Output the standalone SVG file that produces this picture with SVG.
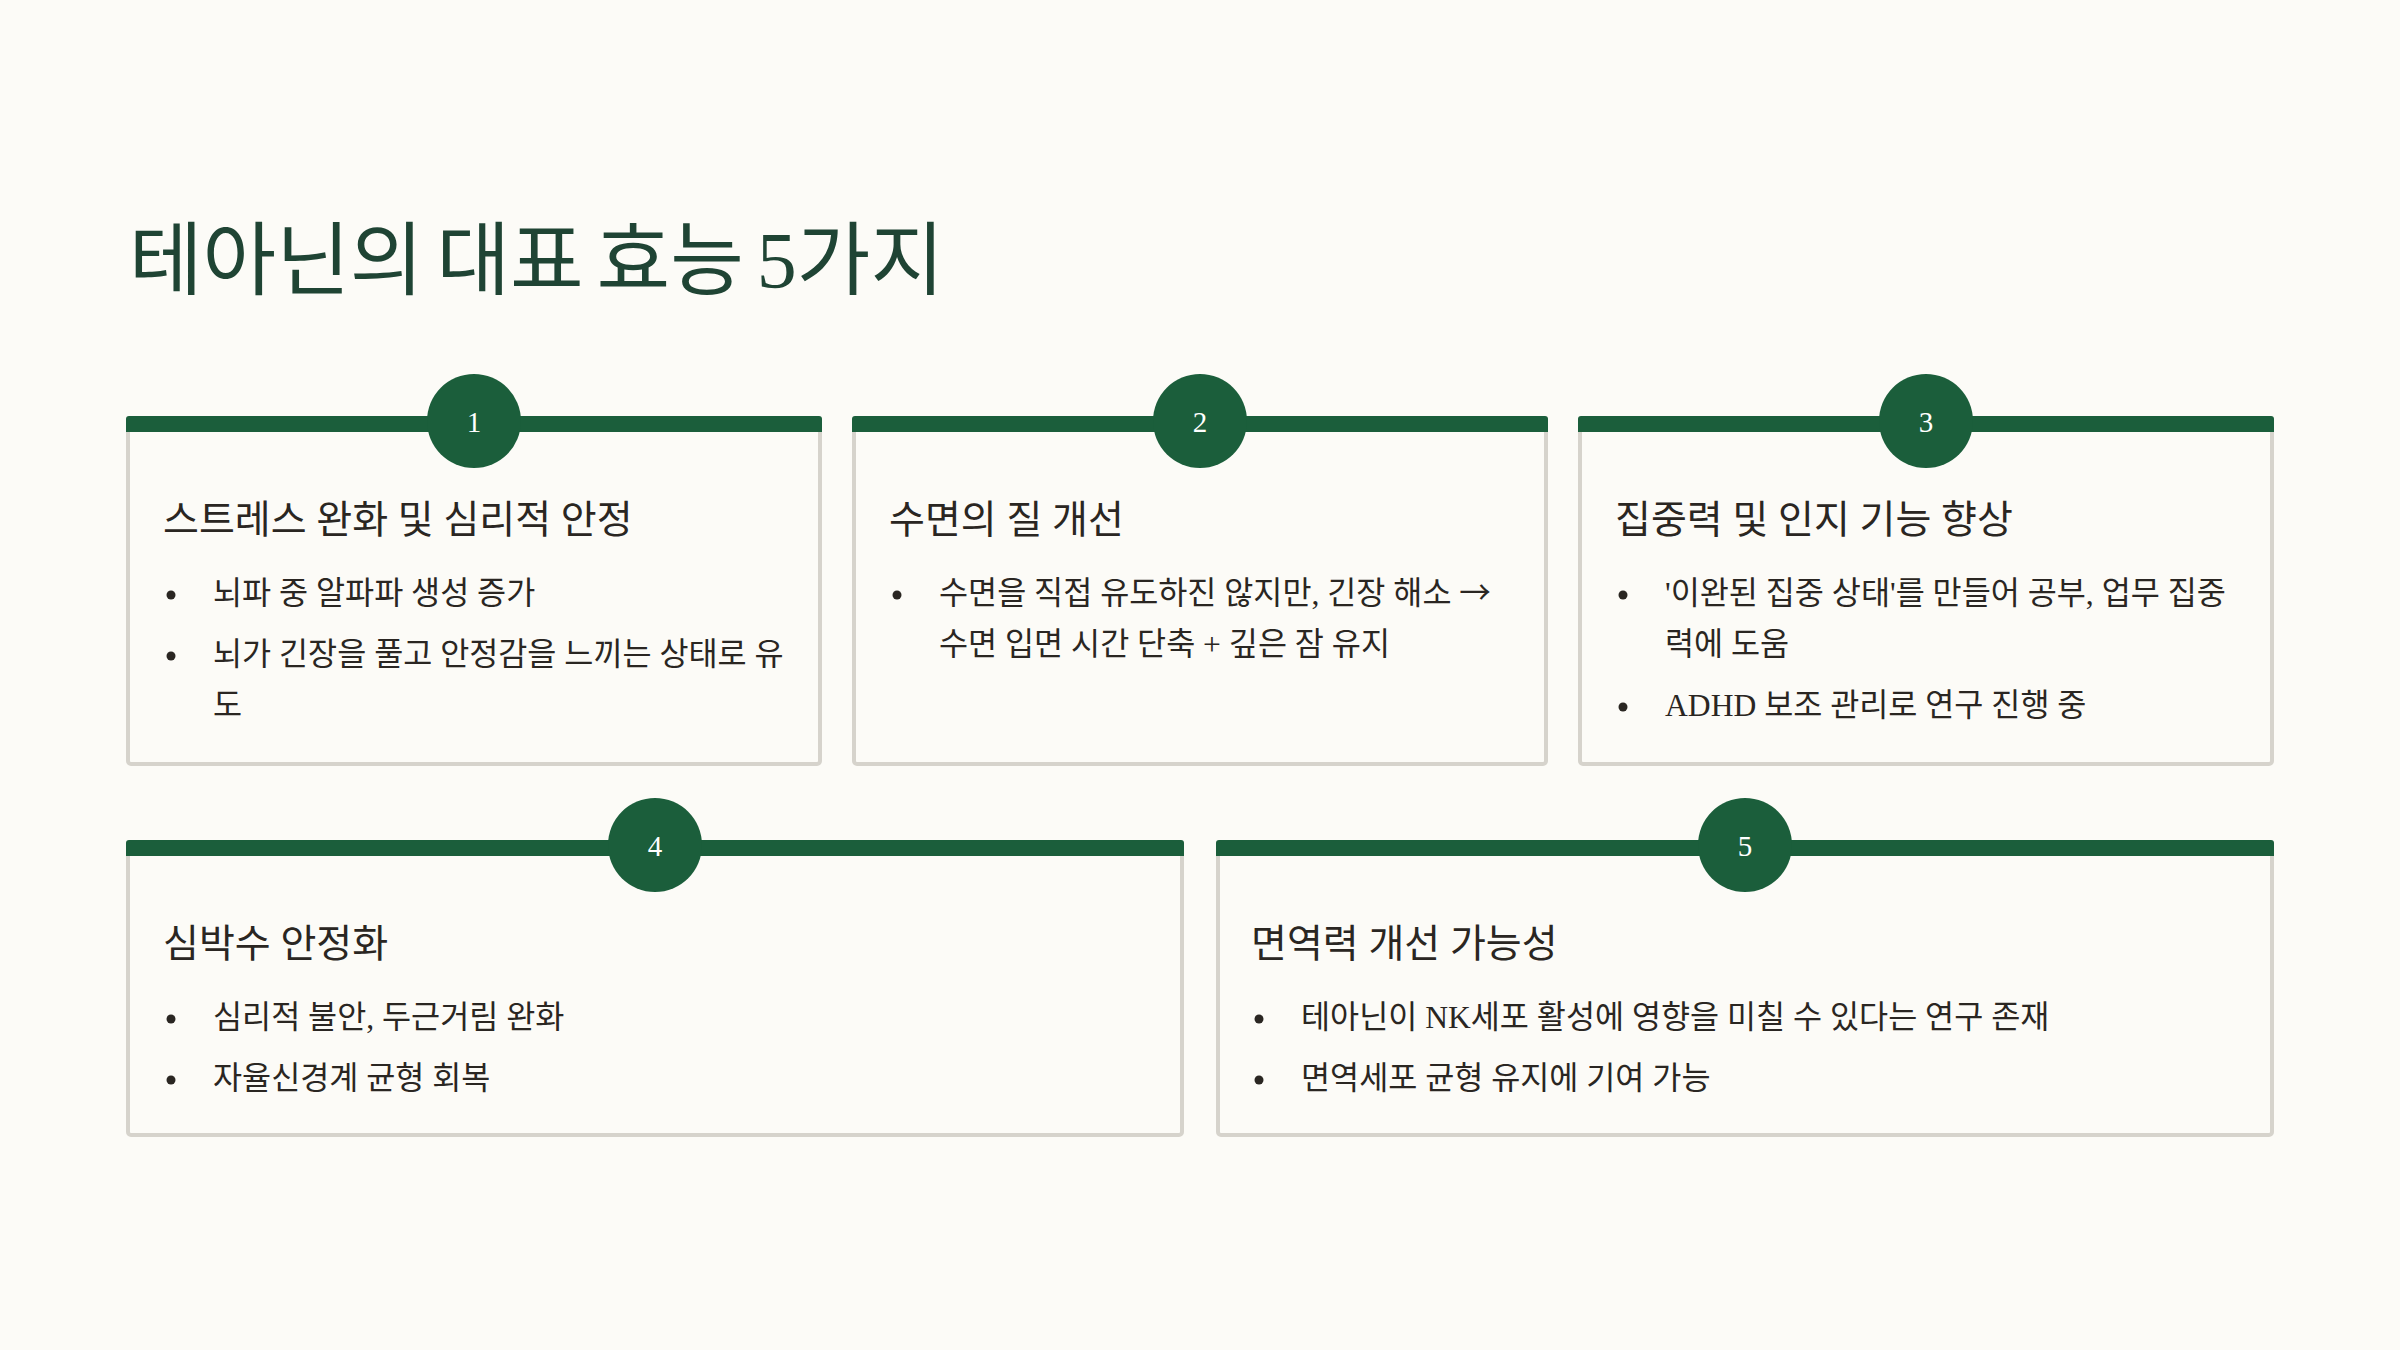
<svg xmlns="http://www.w3.org/2000/svg" width="2400" height="1350" viewBox="0 0 2400 1350">
  <style>
    .bg { fill: #fcfbf7; }
    .card { fill: #fcfbf7; stroke: #d6d3cc; stroke-width: 4; }
    .bar { fill: #1b5e3b; }
    .badge { fill: #1b5e3b; }
    .num { font-family: "Liberation Serif", "Noto Sans CJK KR", serif; font-size: 29px; fill: #ffffff; text-anchor: middle; }
    .title { font-family: "Liberation Serif", "Noto Sans CJK KR", sans-serif; font-size: 80px; fill: #1f4434; word-spacing: -7px; }
    .head { font-family: "Liberation Serif", "Noto Sans CJK KR", sans-serif; font-size: 39px; fill: #2a2622; }
    .txt { font-family: "Liberation Serif", "Noto Sans CJK KR", sans-serif; font-size: 31.6px; fill: #2a2622; }
    .sans { font-family: "Noto Sans CJK KR", sans-serif; }
    .dot { fill: #2a2622; }
  </style>
  <rect class="bg" x="0" y="0" width="2400" height="1350"/>
  <text id="title" class="title" x="129" y="288">테아닌의 대표 효능 5가지</text>

  <g id="card1">
    <rect class="card" x="128" y="418" width="692" height="346" rx="3"/>
    <path class="bar" d="M126 432 V419 Q126 416 129 416 H819 Q822 416 822 419 V432 Z"/>
    <circle class="badge" cx="474" cy="421" r="47"/>
    <text class="num" x="474" y="432">1</text>
    <text class="head" x="163" y="533">스트레스 완화 및 심리적 안정</text>
    <circle class="dot" cx="171" cy="595" r="4.5"/>
    <text class="txt" x="213" y="604">뇌파 중 알파파 생성 증가</text>
    <circle class="dot" cx="171" cy="656" r="4.5"/>
    <text class="txt" x="213" y="665">뇌가 긴장을 풀고 안정감을 느끼는 상태로 유</text>
    <text class="txt" x="213" y="715.5">도</text>
  </g>

  <g id="card2">
    <rect class="card" x="854" y="418" width="692" height="346" rx="3"/>
    <path class="bar" d="M852 432 V419 Q852 416 855 416 H1545 Q1548 416 1548 419 V432 Z"/>
    <circle class="badge" cx="1200" cy="421" r="47"/>
    <text class="num" x="1200" y="432">2</text>
    <text class="head" x="889" y="533">수면의 질 개선</text>
    <circle class="dot" cx="897" cy="595" r="4.5"/>
    <text class="txt" x="939" y="604">수면을 직접 유도하진 않지만, 긴장 해소 <tspan class="sans">→</tspan></text>
    <text class="txt" x="939" y="654.5">수면 입면 시간 단축 + 깊은 잠 유지</text>
  </g>

  <g id="card3">
    <rect class="card" x="1580" y="418" width="692" height="346" rx="3"/>
    <path class="bar" d="M1578 432 V419 Q1578 416 1581 416 H2271 Q2274 416 2274 419 V432 Z"/>
    <circle class="badge" cx="1926" cy="421" r="47"/>
    <text class="num" x="1926" y="432">3</text>
    <text class="head" x="1615" y="533">집중력 및 인지 기능 향상</text>
    <circle class="dot" cx="1623" cy="595" r="4.5"/>
    <text class="txt" x="1665" y="604">'이완된 집중 상태'를 만들어 공부, 업무 집중</text>
    <text class="txt" x="1665" y="654.5">력에 도움</text>
    <circle class="dot" cx="1623" cy="707" r="4.5"/>
    <text class="txt" x="1665" y="716">ADHD 보조 관리로 연구 진행 중</text>
  </g>

  <g id="card4">
    <rect class="card" x="128" y="842" width="1054" height="293" rx="3"/>
    <path class="bar" d="M126 856 V843 Q126 840 129 840 H1181 Q1184 840 1184 843 V856 Z"/>
    <circle class="badge" cx="655" cy="845" r="47"/>
    <text class="num" x="655" y="856">4</text>
    <text class="head" x="163" y="957">심박수 안정화</text>
    <circle class="dot" cx="171" cy="1019" r="4.5"/>
    <text class="txt" x="213" y="1028">심리적 불안, 두근거림 완화</text>
    <circle class="dot" cx="171" cy="1080" r="4.5"/>
    <text class="txt" x="213" y="1089">자율신경계 균형 회복</text>
  </g>

  <g id="card5">
    <rect class="card" x="1218" y="842" width="1054" height="293" rx="3"/>
    <path class="bar" d="M1216 856 V843 Q1216 840 1219 840 H2271 Q2274 840 2274 843 V856 Z"/>
    <circle class="badge" cx="1745" cy="845" r="47"/>
    <text class="num" x="1745" y="856">5</text>
    <text class="head" x="1251" y="957">면역력 개선 가능성</text>
    <circle class="dot" cx="1259" cy="1019" r="4.5"/>
    <text class="txt" x="1301" y="1028">테아닌이 NK세포 활성에 영향을 미칠 수 있다는 연구 존재</text>
    <circle class="dot" cx="1259" cy="1080" r="4.5"/>
    <text class="txt" x="1301" y="1089">면역세포 균형 유지에 기여 가능</text>
  </g>

  <g id="connectors"/>
</svg>
